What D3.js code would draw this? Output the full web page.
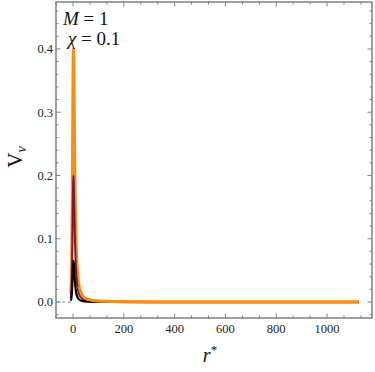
<!DOCTYPE html>
<html>
<head>
<meta charset="utf-8">
<script src="https://cdn.jsdelivr.net/npm/d3@7"></script>
<style>
  body { margin: 0; background: #fff; }
  svg { display: block; }
  svg text { font-family: 'Liberation Serif', 'DejaVu Serif', serif; }
  .tick-label { font-size: 12.5px; fill: #222; }
  .axis-title { fill: #111; }
</style>
</head>
<body>
<div id="vis"></div>
<script>
// tortoise coordinate samples and potential values
const rStar = [-8.6, -5.3, -3.9, -2.4, -0.8, 0.2, 1.6, 2.9, 4.0, 5.8, 7.4, 10.2, 12.8, 18.7, 24.4, 35.3, 56.4, 108, 200, 400, 700, 1125];
const vOrange = [0.013, 0.063, 0.116, 0.204, 0.312, 0.368, 0.400, 0.380, 0.338, 0.260, 0.200, 0.126, 0.086, 0.042, 0.024, 0.011, 0.0042, 0.0010, 0.0003, 0.0001, 0, 0];
const vMaroon = [0.0066, 0.031, 0.058, 0.102, 0.156, 0.184, 0.200, 0.190, 0.169, 0.130, 0.100, 0.063, 0.043, 0.021, 0.012, 0.0056, 0.0021, 0.0005, 0.0002, 0, 0, 0];
const vBlack = [0.002, 0.010, 0.019, 0.033, 0.051, 0.060, 0.065, 0.062, 0.055, 0.042, 0.033, 0.021, 0.014, 0.0068, 0.004, 0.0018, 0.0007, 0.0002, 0, 0, 0, 0];

const xTicks = [0, 200, 400, 600, 800, 1000];
const yTicks = [0.0, 0.1, 0.2, 0.3, 0.4];

const width = 375, height = 372;
const frame = { left: 56, top: 2, right: 372, bottom: 318 };

const x = d3.scaleLinear().domain([-67, 1177]).range([frame.left, frame.right]);
const y = d3.scaleLinear().domain([-0.0253, 0.4742]).range([frame.bottom, frame.top]);

const svg = d3.select("#vis").append("svg")
    .attr("width", width)
    .attr("height", height);

svg.append("defs").append("clipPath")
    .attr("id", "clip")
    .append("rect")
    .attr("x", frame.left).attr("y", frame.top)
    .attr("width", frame.right - frame.left)
    .attr("height", frame.bottom - frame.top);

const plot = svg.append("g").attr("clip-path", "url(#clip)");

// dashed baseline left of the curves
plot.append("line")
    .attr("x1", x(-67)).attr("x2", x(rStar[0]))
    .attr("y1", y(0)).attr("y2", y(0))
    .attr("stroke", "#888")
    .attr("stroke-width", 1)
    .attr("stroke-dasharray", "3,3");

const line = d3.line()
    .x((d, i) => x(rStar[i]))
    .y(d => y(d))
    .curve(d3.curveMonotoneX);

const series = [
    { values: vOrange, color: "#ff8c12", w: 3 },
    { values: vMaroon, color: "#7a1a3c", w: 2 },
    { values: vBlack, color: "#000000", w: 2.2 }
];

plot.selectAll(".curve")
    .data(series)
    .join("path")
    .attr("class", "curve")
    .attr("d", d => line(d.values))
    .attr("fill", "none")
    .attr("stroke", d => d.color)
    .attr("stroke-width", d => d.w)
    .attr("stroke-linejoin", "round");

// orange tail sits on top of the others along the baseline
const tailStart = 14;
const tailLine = d3.line()
    .x((d, i) => x(rStar[i + tailStart]))
    .y(d => y(d))
    .curve(d3.curveMonotoneX);
plot.append("path")
    .attr("d", tailLine(vOrange.slice(tailStart)))
    .attr("fill", "none")
    .attr("stroke", "#ff8c12")
    .attr("stroke-width", 3);

// frame
svg.append("rect")
    .attr("x", frame.left).attr("y", frame.top)
    .attr("width", frame.right - frame.left)
    .attr("height", frame.bottom - frame.top)
    .attr("fill", "none")
    .attr("stroke", "#808080")
    .attr("stroke-width", 1.5);

// ticks (inside the frame, all four sides)
const tickColor = "#808080";
const xMinor = d3.range(-1, 18).map(i => i * 200 / 3).filter(v => v > -67 && v < 1177);
xMinor.forEach(v => {
    const major = Math.abs(v / 200 - Math.round(v / 200)) < 1e-6;
    const len = major ? 4.5 : 2.5;
    svg.append("line").attr("x1", x(v)).attr("x2", x(v))
        .attr("y1", frame.bottom).attr("y2", frame.bottom - len)
        .attr("stroke", tickColor).attr("stroke-width", 1);
    svg.append("line").attr("x1", x(v)).attr("x2", x(v))
        .attr("y1", frame.top).attr("y2", frame.top + len)
        .attr("stroke", tickColor).attr("stroke-width", 1);
});
const yMinor = d3.range(-1, 24).map(i => i * 0.02).filter(v => v > -0.0253 && v < 0.4742);
yMinor.forEach(v => {
    const major = Math.abs(v / 0.1 - Math.round(v / 0.1)) < 1e-6;
    const len = major ? 4.5 : 2.5;
    svg.append("line").attr("x1", frame.left).attr("x2", frame.left + len)
        .attr("y1", y(v)).attr("y2", y(v))
        .attr("stroke", tickColor).attr("stroke-width", 1);
    svg.append("line").attr("x1", frame.right).attr("x2", frame.right - len)
        .attr("y1", y(v)).attr("y2", y(v))
        .attr("stroke", tickColor).attr("stroke-width", 1);
});

svg.selectAll(".xlab")
    .data(xTicks)
    .join("text")
    .attr("class", "tick-label")
    .attr("x", d => x(d))
    .attr("y", 333)
    .attr("text-anchor", "middle")
    .text(d => d);

svg.selectAll(".ylab")
    .data(yTicks)
    .join("text")
    .attr("class", "tick-label")
    .attr("x", 53)
    .attr("y", d => y(d) + 4.5)
    .attr("text-anchor", "end")
    .text(d => d.toFixed(1));

// axis titles
svg.append("text")
    .attr("class", "axis-title")
    .attr("transform", "translate(22,157) rotate(-90)")
    .attr("text-anchor", "middle")
    .attr("font-size", 21)
    .html('V<tspan font-style="italic" font-size="14" dy="4">v</tspan>');

svg.append("text")
    .attr("class", "axis-title")
    .attr("x", 210)
    .attr("y", 362)
    .attr("text-anchor", "middle")
    .attr("font-size", 20)
    .html('<tspan font-style="italic">r</tspan><tspan font-size="13" dy="-8">*</tspan>');

// parameter labels
svg.append("text")
    .attr("class", "axis-title")
    .attr("x", 63).attr("y", 25)
    .attr("font-size", 19)
    .html('<tspan font-style="italic">M</tspan> = 1');

svg.append("text")
    .attr("class", "axis-title")
    .attr("x", 68).attr("y", 45)
    .attr("font-size", 19)
    .html('<tspan font-style="italic">χ</tspan> = 0.1');
</script>
</body>
</html>
